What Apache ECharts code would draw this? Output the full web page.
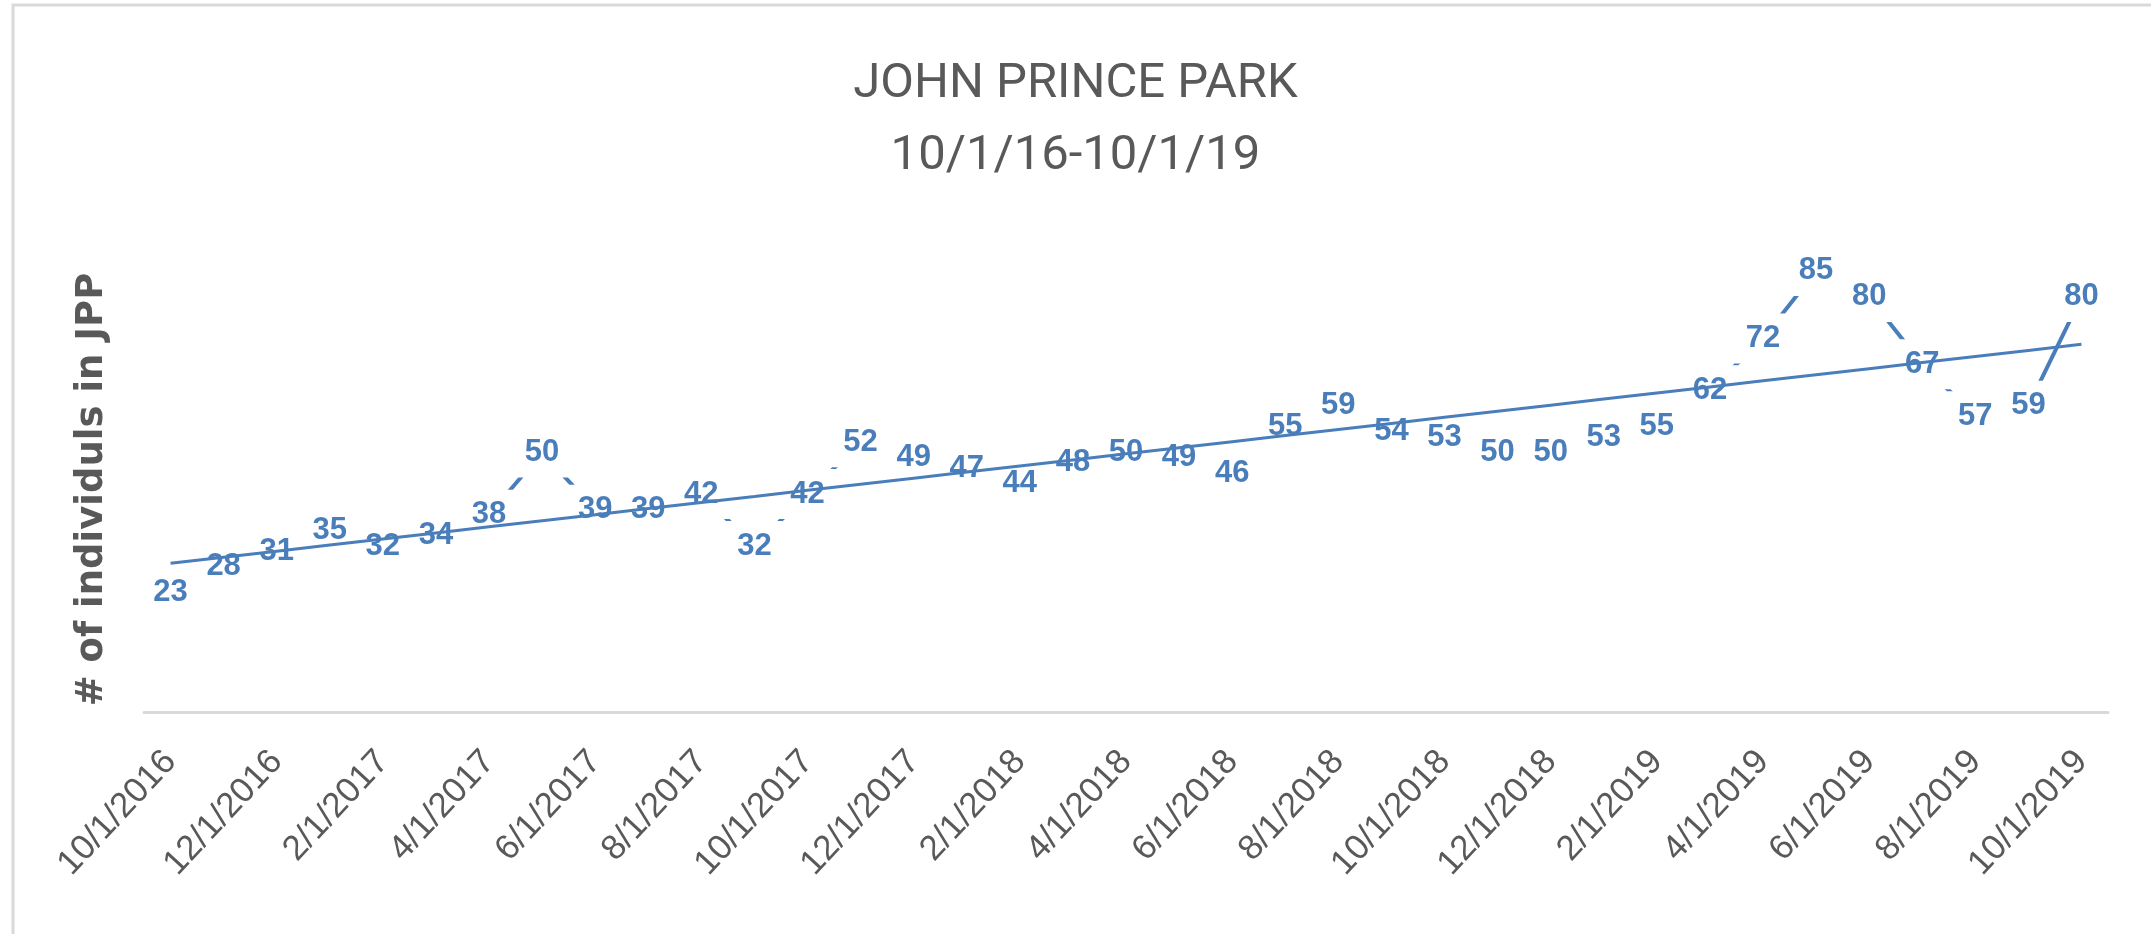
<!DOCTYPE html>
<html>
<head>
<meta charset="utf-8">
<title>John Prince Park</title>
<script src="https://cdn.jsdelivr.net/npm/echarts@6/dist/echarts.min.js"></script>
<style>
    html, body { margin: 0; padding: 0; background: #fff; }
    #chart { width: 2151px; height: 934px; }
</style>
</head>
<body>
<div id="chart"></div>
<script>
// monthly counts, 10/1/2016 - 10/1/2019
var months = [
    '10/1/2016', '11/1/2016', '12/1/2016', '1/1/2017', '2/1/2017', '3/1/2017', '4/1/2017',
    '5/1/2017', '6/1/2017', '7/1/2017', '8/1/2017', '9/1/2017', '10/1/2017', '11/1/2017',
    '12/1/2017', '1/1/2018', '2/1/2018', '3/1/2018', '4/1/2018', '5/1/2018', '6/1/2018',
    '7/1/2018', '8/1/2018', '9/1/2018', '10/1/2018', '11/1/2018', '12/1/2018', '1/1/2019',
    '2/1/2019', '3/1/2019', '4/1/2019', '5/1/2019', '6/1/2019', '7/1/2019', '8/1/2019',
    '9/1/2019', '10/1/2019'
];
var counts = [
    23, 28, 31, 35, 32, 34, 38, 50, 39, 39, 42, 32, 42, 52, 49, 47, 44, 48, 50,
    49, 46, 55, 59, 54, 53, 50, 50, 53, 55, 62, 72, 85, 80, 67, 57, 59, 80
];
var yMin = 0;
var yMax = 90;

var blue = '#4a7ebb';
var grey = '#595959';
var lightGrey = '#d9d9d9';

// linear trend line, same as excel's least squares fit
function linearTrend(values) {
    var n = values.length;
    var sx = 0, sy = 0, sxx = 0, sxy = 0;
    values.forEach(function (v, i) {
        sx += i; sy += v; sxx += i * i; sxy += i * v;
    });
    var slope = (n * sxy - sx * sy) / (n * sxx - sx * sx);
    var intercept = (sy - slope * sx) / n;
    return values.map(function (v, i) {
        return +(intercept + slope * i).toFixed(3);
    });
}

var chart = echarts.init(document.getElementById('chart'));

var option = {
    animation: false,
    backgroundColor: '#fff',
    title: {
        text: 'JOHN PRINCE PARK\n10/1/16-10/1/19',
        left: 'center',
        top: 49,
        padding: 0,
        textStyle: {
            fontFamily: 'Roboto',
            fontWeight: 'normal',
            fontSize: 49,
            lineHeight: 72,
            color: grey
        }
    },
    graphic: [{
        // chart area border
        type: 'rect',
        shape: { x: 13, y: 5, width: 2300, height: 1200 },
        style: { fill: 'none', stroke: lightGrey, lineWidth: 3 },
        silent: true
    }],
    grid: {
        left: 144,
        right: 43,
        top: 245,
        bottom: 222
    },
    xAxis: {
        type: 'category',
        data: months,
        boundaryGap: true,
        axisLine: {
            lineStyle: { color: lightGrey, width: 3 }
        },
        axisTick: {
            interval: 1,
            length: 13,
            lineStyle: { color: lightGrey, width: 2 }
        },
        axisLabel: {
            interval: 1,
            rotate: 47,
            margin: 44,
            fontFamily: 'Liberation Sans',
            fontSize: 35,
            color: grey
        }
    },
    yAxis: {
        type: 'value',
        min: yMin,
        max: yMax,
        name: '# of individuls in JPP',
        nameLocation: 'middle',
        nameGap: 33,
        nameTextStyle: {
            fontFamily: 'DejaVu Sans',
            fontWeight: 'bold',
            fontSize: 37,
            color: grey,
            padding: [0, 22, 0, 0]
        },
        axisLine: { show: false },
        axisTick: { show: false },
        axisLabel: { show: false },
        splitLine: { show: false }
    },
    series: [
        {
            name: 'Individuals',
            type: 'line',
            data: counts,
            z: 2,
            symbol: 'circle',
            symbolSize: 1,
            showSymbol: true,
            showAllSymbol: true,
            lineStyle: { color: blue, width: 4 },
            itemStyle: { color: blue },
            label: {
                show: true,
                position: 'inside',
                fontFamily: 'Liberation Sans',
                fontWeight: 'bold',
                fontSize: 31,
                lineHeight: 30,
                color: blue,
                backgroundColor: '#fff',
                padding: [10, 11]
            }
        },
        {
            name: 'Linear trend',
            type: 'line',
            data: linearTrend(counts),
            z: 5,
            showSymbol: false,
            silent: true,
            lineStyle: { color: blue, width: 3 }
        }
    ]
};

chart.setOption(option);
</script>
</body>
</html>
